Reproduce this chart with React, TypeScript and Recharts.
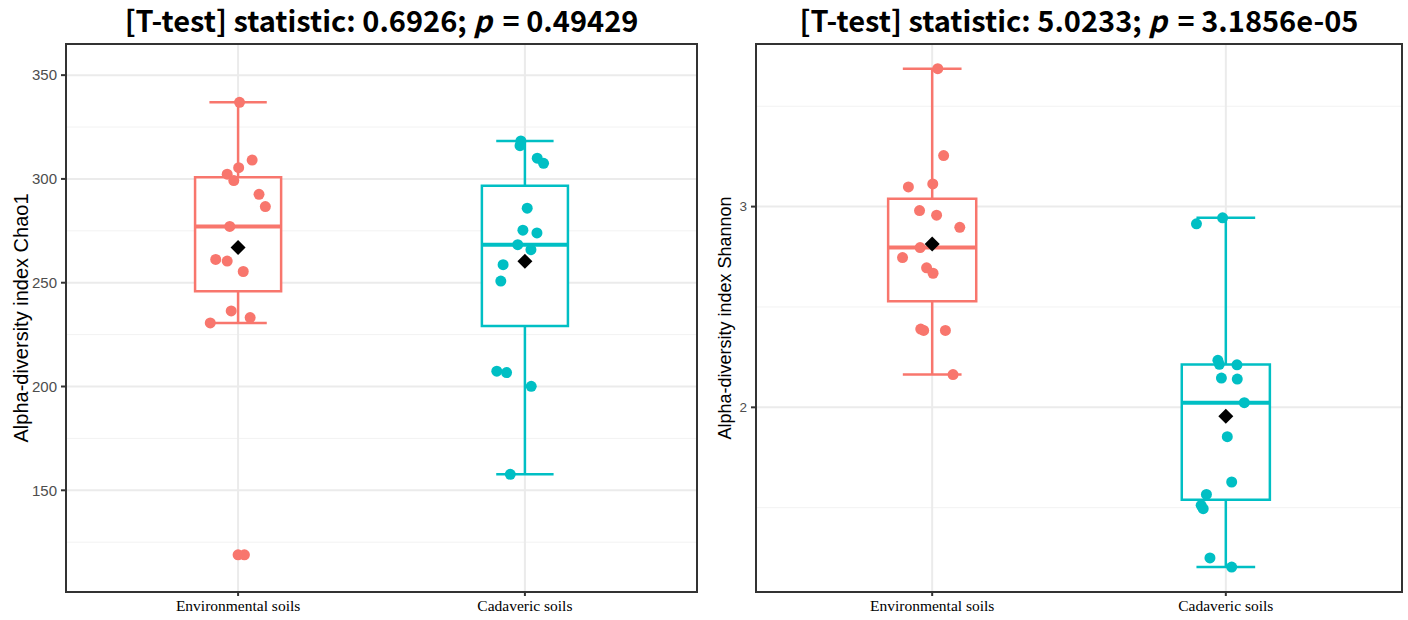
import React from 'react';
import {
  ComposedChart,
  Scatter,
  XAxis,
  YAxis,
  CartesianGrid,
  ReferenceArea,
  ReferenceLine,
} from 'recharts';

const groups = ['Environmental soils', 'Cadaveric soils'];
const groupPos = [1, 2];
const colors = ['#F8766D', '#00BFC4'];
const xDomain: [number, number] = [0.4, 2.6];

// Chao1 - jittered points as drawn (x = group position + jitter)
const chaoEnvX = [1.005, 1.049, 1.002, 0.962, 0.985, 1.073, 1.095, 0.971, 0.922, 0.962, 1.018, 0.976, 1.042, 0.903, 1.022];
const chaoEnvY = [336.9, 309.1, 305.4, 302.3, 299.2, 292.6, 286.7, 277.1, 261.2, 260.4, 255.4, 236.4, 233.2, 230.6, 118.9];
const chaoCadX = [1.986, 1.983, 2.043, 2.065, 2.008, 1.993, 2.042, 1.975, 2.021, 1.924, 1.916, 1.902, 1.936, 2.022, 1.949];
const chaoCadY = [318.3, 316.0, 310.0, 307.5, 285.9, 275.3, 274.0, 268.3, 265.9, 258.7, 250.8, 207.4, 206.7, 200.1, 157.7];
const chaoOutX = [1];
const chaoOutY = [118.9];

// Chao1 box stats per group
const chaoLow = [230.6, 157.7];
const chaoQ1 = [245.9, 229.1];
const chaoMed = [277.1, 268.3];
const chaoQ3 = [300.75, 296.7];
const chaoHigh = [336.9, 318.3];
const chaoMean = [267.0, 260.3];

const chaoTicks = [150, 200, 250, 300, 350];
const chaoMinor = [125, 175, 225, 275, 325];

// Shannon
const shanEnvX = [1.019, 1.039, 1.002, 0.919, 0.957, 1.015, 1.094, 0.959, 0.899, 0.981, 1.003, 0.971, 1.045, 0.961, 1.071];
const shanEnvY = [3.687, 3.254, 3.113, 3.098, 2.98, 2.957, 2.897, 2.796, 2.746, 2.695, 2.668, 2.383, 2.383, 2.39, 2.163];
const shanCadX = [1.989, 1.9, 1.973, 1.978, 2.038, 1.985, 2.039, 2.063, 2.005, 2.02, 1.934, 1.916, 1.923, 1.946, 2.02];
const shanCadY = [2.944, 2.914, 2.234, 2.214, 2.212, 2.146, 2.141, 2.023, 1.854, 1.628, 1.566, 1.512, 1.495, 1.25, 1.204];

const shanLow = [2.163, 1.204];
const shanQ1 = [2.529, 1.539];
const shanMed = [2.796, 2.023];
const shanQ3 = [3.039, 2.213];
const shanHigh = [3.687, 2.944];
const shanMean = [2.814, 1.955];

const shanTicks = [2, 3];
const shanMinor = [1.5, 2.5, 3.5];

const zip = (xs: number[], ys: number[]) => xs.map((x, i) => ({ x, y: ys[i] }));

const Dot = (color: string) => (props: any) => (
  <circle cx={props.cx} cy={props.cy} r={5.5} fill={color} />
);

const Diamond = (props: any) => {
  const { cx, cy } = props;
  const s = 7.5;
  return (
    <polygon
      points={`${cx},${cy - s} ${cx + s},${cy} ${cx},${cy + s} ${cx - s},${cy}`}
      fill="#000"
    />
  );
};

interface Stats {
  low: number[];
  q1: number[];
  med: number[];
  q3: number[];
  high: number[];
  mean: number[];
}

interface PanelProps {
  left: number;
  yWidth: number;
  rightMargin: number;
  title: React.ReactNode;
  yLabel: string;
  domain: [number, number];
  ticks: number[];
  minor: number[];
  tickSize: number;
  labelSize: number;
  series: { x: number; y: number }[][];
  outliers: { x: number; y: number }[][];
  stats: Stats;
}

function Panel(p: PanelProps) {
  const W = 704;
  const H = 620;
  const plotLeft = p.yWidth;
  const plotRight = W - p.rightMargin;
  const means = groupPos.map((x, i) => ({ x, y: p.stats.mean[i] }));

  return (
    <div style={{ position: 'absolute', left: p.left, top: 0, width: W, height: H }}>
      <div
        style={{
          position: 'absolute',
          left: plotLeft,
          width: plotRight - plotLeft,
          top: 1,
          textAlign: 'center',
          fontFamily: '"Noto Sans CJK SC", "Noto Sans", sans-serif',
          fontWeight: 700,
          fontSize: 29,
          lineHeight: '36px',
          color: '#000',
        }}
      >
        {p.title}
      </div>
      <ComposedChart
        width={W}
        height={H}
        margin={{ top: 44, right: p.rightMargin, bottom: 0, left: 0 }}
      >
        <CartesianGrid
          vertical={false}
          horizontalValues={p.minor}
          stroke="#f2f2f2"
          strokeWidth={1}
        />
        <CartesianGrid
          horizontalValues={p.ticks}
          verticalValues={groupPos}
          stroke="#ebebeb"
          strokeWidth={2}
        />
        <XAxis
          type="number"
          dataKey="x"
          domain={xDomain}
          ticks={groupPos}
          allowDataOverflow
          tickFormatter={(v) => groups[groupPos.indexOf(v)] ?? ''}
          height={28}
          axisLine={false}
          tickLine={{ stroke: '#333', strokeWidth: 2 }}
          tickSize={4}
          tickMargin={4}
          tick={{ fill: '#000', fontSize: 15.5, fontFamily: '"Liberation Serif", serif' }}
        />
        <YAxis
          type="number"
          dataKey="y"
          domain={p.domain}
          ticks={p.ticks}
          allowDataOverflow
          width={p.yWidth}
          axisLine={false}
          tickLine={{ stroke: '#333', strokeWidth: 2 }}
          tickSize={5}
          tickMargin={4}
          tick={{ fill: '#4d4d4d', fontSize: p.tickSize, fontFamily: '"Liberation Sans", Arial, sans-serif' }}
          label={{
            content: ({ viewBox }: any) => {
              const x = viewBox.x + 21;
              const y = viewBox.y + viewBox.height / 2;
              return (
                <text
                  x={x}
                  y={y}
                  transform={`rotate(-90, ${x}, ${y})`}
                  textAnchor="middle"
                  dominantBaseline="central"
                  fontSize={p.labelSize}
                  fontFamily='"Liberation Sans", Arial, sans-serif'
                  fill="#000"
                >
                  {p.yLabel}
                </text>
              );
            },
          }}
        />
        {groupPos.map((pos, i) => (
          <React.Fragment key={pos}>
            <ReferenceLine
              segment={[{ x: pos, y: p.stats.q3[i] }, { x: pos, y: p.stats.high[i] }]}
              stroke={colors[i]}
              strokeWidth={2.5}
            />
            <ReferenceLine
              segment={[{ x: pos, y: p.stats.low[i] }, { x: pos, y: p.stats.q1[i] }]}
              stroke={colors[i]}
              strokeWidth={2.5}
            />
            <ReferenceLine
              segment={[{ x: pos - 0.1, y: p.stats.high[i] }, { x: pos + 0.1, y: p.stats.high[i] }]}
              stroke={colors[i]}
              strokeWidth={2.5}
            />
            <ReferenceLine
              segment={[{ x: pos - 0.1, y: p.stats.low[i] }, { x: pos + 0.1, y: p.stats.low[i] }]}
              stroke={colors[i]}
              strokeWidth={2.5}
            />
            <ReferenceArea
              x1={pos - 0.15}
              x2={pos + 0.15}
              y1={p.stats.q1[i]}
              y2={p.stats.q3[i]}
              fill="#fff"
              fillOpacity={1}
              stroke={colors[i]}
              strokeWidth={2.5}
            />
            <ReferenceLine
              segment={[{ x: pos - 0.15, y: p.stats.med[i] }, { x: pos + 0.15, y: p.stats.med[i] }]}
              stroke={colors[i]}
              strokeWidth={4}
            />
          </React.Fragment>
        ))}
        <ReferenceArea
          x1={xDomain[0]}
          x2={xDomain[1]}
          y1={p.domain[0]}
          y2={p.domain[1]}
          ifOverflow="visible"
          fill="none"
          fillOpacity={0}
          stroke="#333"
          strokeWidth={2}
        />
        {p.outliers.map((d, i) => (
          <Scatter key={'o' + i} data={d} shape={Dot(colors[i])} isAnimationActive={false} />
        ))}
        {p.series.map((d, i) => (
          <Scatter key={'s' + i} data={d} shape={Dot(colors[i])} isAnimationActive={false} />
        ))}
        <Scatter data={means} shape={Diamond} isAnimationActive={false} />
      </ComposedChart>
    </div>
  );
}

const P = () => <i style={{ marginRight: 4 }}>p</i>;

export default function App() {
  return (
    <div style={{ position: 'absolute', left: 0, top: 0, width: 1408, height: 620, background: '#fff' }}>
      <Panel
        left={0}
        yWidth={66}
        rightMargin={7}
        title={<span>[T-test] statistic: 0.6926; <P /> = 0.49429</span>}
        yLabel="Alpha-diversity index Chao1"
        domain={[101, 365]}
        ticks={chaoTicks}
        minor={chaoMinor}
        tickSize={15}
        labelSize={20}
        series={[zip(chaoEnvX, chaoEnvY), zip(chaoCadX, chaoCadY)]}
        outliers={[zip(chaoOutX, chaoOutY), []]}
        stats={{ low: chaoLow, q1: chaoQ1, med: chaoMed, q3: chaoQ3, high: chaoHigh, mean: chaoMean }}
      />
      <Panel
        left={704}
        yWidth={52}
        rightMargin={6}
        title={<span>[T-test] statistic: 5.0233; <P /> = 3.1856e-05</span>}
        yLabel="Alpha-diversity index Shannon"
        domain={[1.08, 3.81]}
        ticks={shanTicks}
        minor={shanMinor}
        tickSize={13.5}
        labelSize={18}
        series={[zip(shanEnvX, shanEnvY), zip(shanCadX, shanCadY)]}
        outliers={[[], []]}
        stats={{ low: shanLow, q1: shanQ1, med: shanMed, q3: shanQ3, high: shanHigh, mean: shanMean }}
      />
    </div>
  );
}
